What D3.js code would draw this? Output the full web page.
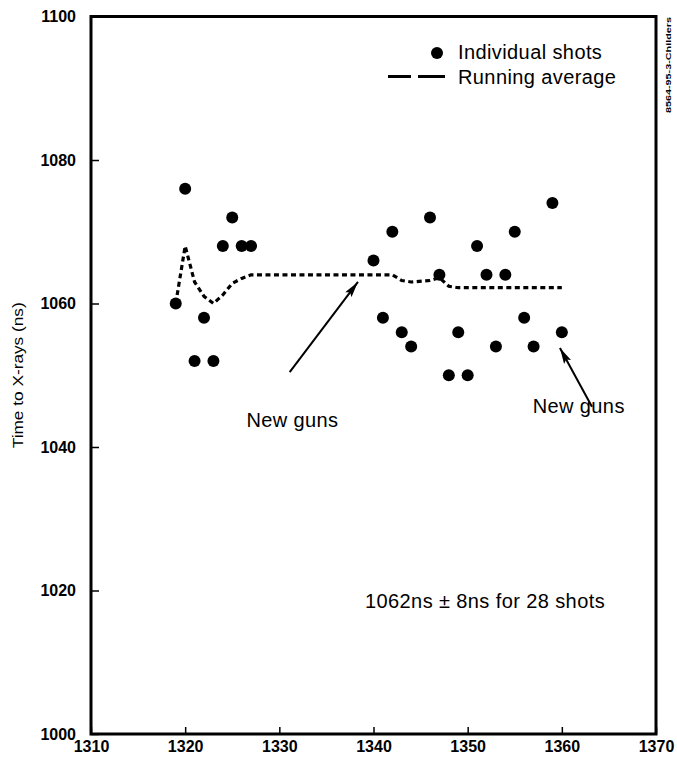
<!DOCTYPE html>
<html>
<head>
<meta charset="utf-8">
<script src="https://cdn.jsdelivr.net/npm/d3@7"></script>
<style>
  html, body { margin: 0; padding: 0; background: #fff; }
  svg { display: block; font-family: "Liberation Sans", Arial, Helvetica, sans-serif; }
</style>
</head>
<body>
<svg id="chart" width="677" height="760"></svg>
<script>
// ---- data ----
const shotNumbers = [1319, 1320, 1321, 1322, 1323, 1324, 1325, 1326, 1327,
  1340, 1341, 1342, 1343, 1344, 1346, 1347, 1348, 1349, 1350, 1351, 1352, 1353,
  1354, 1355, 1356, 1357, 1359, 1360];
const shotTimes = [1060, 1076, 1052, 1058, 1052, 1068, 1072, 1068, 1068,
  1066, 1058, 1070, 1056, 1054, 1072, 1064, 1050, 1056, 1050, 1068, 1064, 1054,
  1064, 1070, 1058, 1054, 1074, 1056];
const runningAvg = [1060, 1068, 1063, 1061, 1060, 1061.2, 1062.8, 1063.5, 1064,
  1064, 1064, 1064, 1063.2, 1063, 1063.2, 1063.6, 1062.4, 1062.2, 1062.2, 1062.2, 1062.2, 1062.2,
  1062.2, 1062.2, 1062.2, 1062.2, 1062.2, 1062.2];
const xTicks = [1310, 1320, 1330, 1340, 1350, 1360, 1370];
const yTicks = [1000, 1020, 1040, 1060, 1080, 1100];
const yLabel = "Time to X-rays (ns)";
const legendLabels = ["Individual shots", "Running average"];
const annotations = [
  { text: "New guns", x: 1326.5, y: 1042.8 },
  { text: "New guns", x: 1356.9, y: 1044.7 },
  { text: "1062ns \u00B1 8ns for 28 shots", x: 1339.1, y: 1017.6 }
];
const arrows = [
  { x0: 1331.1, y0: 1050.45, x1: 1338.35, y1: 1063.0 },
  { x0: 1363.2, y0: 1045.6, x1: 1359.8, y1: 1053.8 }
];
const sideNote = "8564-95-3-Childers";

// ---- layout ----
const mLeft = 91, mRight = 656, mTop = 16.5, mBottom = 734;
const svg = d3.select("#chart");
const x = d3.scaleLinear().domain([1310, 1370]).range([mLeft, mRight]);
const y = d3.scaleLinear().domain([1000, 1100]).range([mBottom, mTop]);

// axes
const xAxis = d3.axisBottom(x).tickValues(xTicks).tickFormat(d3.format("d")).tickSize(-7).tickPadding(7);
const yAxis = d3.axisLeft(y).tickValues(yTicks).tickFormat(d3.format("d")).tickSize(-8).tickPadding(15);

const gx = svg.append("g").attr("transform", `translate(0,${mBottom})`).call(xAxis);
const gy = svg.append("g").attr("transform", `translate(${mLeft},0)`).call(yAxis);
[gx, gy].forEach(g => {
  g.select(".domain").remove();
  g.selectAll(".tick line").attr("stroke", "#000").attr("stroke-width", 1.5);
  g.selectAll(".tick text").attr("fill", "#000").attr("font-size", 16)
    .attr("font-family", "'Liberation Sans', Arial, sans-serif").attr("font-weight", "bold");
});

// frame
svg.append("rect").attr("x", mLeft).attr("y", mTop)
  .attr("width", mRight - mLeft).attr("height", mBottom - mTop)
  .attr("fill", "none").attr("stroke", "#000").attr("stroke-width", 3);

// y label
svg.append("text")
  .attr("transform", `translate(23,${(y(1040) + y(1060)) / 2}) rotate(-90)`)
  .attr("text-anchor", "middle").attr("font-size", 14)
  .attr("textLength", 146).attr("lengthAdjust", "spacingAndGlyphs")
  .text(yLabel);

// side note
svg.append("text")
  .attr("transform", `translate(671,113) rotate(-90)`)
  .attr("font-size", 8).attr("font-weight", "bold")
  .attr("textLength", 96).attr("lengthAdjust", "spacingAndGlyphs")
  .text(sideNote);

// running average line
const pts = shotNumbers.map((d, i) => [d, runningAvg[i]]);
svg.append("path")
  .datum(pts)
  .attr("d", d3.line().x(d => x(d[0])).y(d => y(d[1])))
  .attr("fill", "none").attr("stroke", "#000").attr("stroke-width", 3.2)
  .attr("stroke-dasharray", "5,3.5");

// shots
svg.append("g").selectAll("circle")
  .data(shotNumbers.map((d, i) => [d, shotTimes[i]]))
  .join("circle")
  .attr("cx", d => x(d[0])).attr("cy", d => y(d[1])).attr("r", 6).attr("fill", "#000");

// arrows
svg.append("defs").append("marker")
  .attr("id", "ah").attr("viewBox", "0 0 16 8").attr("refX", 16).attr("refY", 4)
  .attr("markerWidth", 16).attr("markerHeight", 8).attr("markerUnits", "userSpaceOnUse")
  .attr("orient", "auto")
  .append("path").attr("d", "M0,0 L16,4 L0,8 L3,4 Z").attr("fill", "#000");
svg.append("g").selectAll("line").data(arrows).join("line")
  .attr("x1", d => x(d.x0)).attr("y1", d => y(d.y0))
  .attr("x2", d => x(d.x1)).attr("y2", d => y(d.y1))
  .attr("stroke", "#000").attr("stroke-width", 2).attr("marker-end", "url(#ah)");

// annotations
svg.append("g").selectAll("text").data(annotations).join("text")
  .attr("x", d => x(d.x)).attr("y", d => y(d.y))
  .attr("font-size", 20).attr("letter-spacing", 0.4)
  .text(d => d.text);

// legend
const lg = svg.append("g");
lg.append("circle").attr("cx", 437).attr("cy", 53).attr("r", 6).attr("fill", "#000");
lg.append("line").attr("x1", 388).attr("x2", 411).attr("y1", 76.5).attr("y2", 76.5)
  .attr("stroke", "#000").attr("stroke-width", 3);
lg.append("line").attr("x1", 418).attr("x2", 445).attr("y1", 76.5).attr("y2", 76.5)
  .attr("stroke", "#000").attr("stroke-width", 3);
lg.append("text").attr("x", 458).attr("y", 59).attr("font-size", 20).attr("letter-spacing", 0.4)
  .text(legendLabels[0]);
lg.append("text").attr("x", 458).attr("y", 83.5).attr("font-size", 20).attr("letter-spacing", 0.4)
  .text(legendLabels[1]);
</script>
</body>
</html>
